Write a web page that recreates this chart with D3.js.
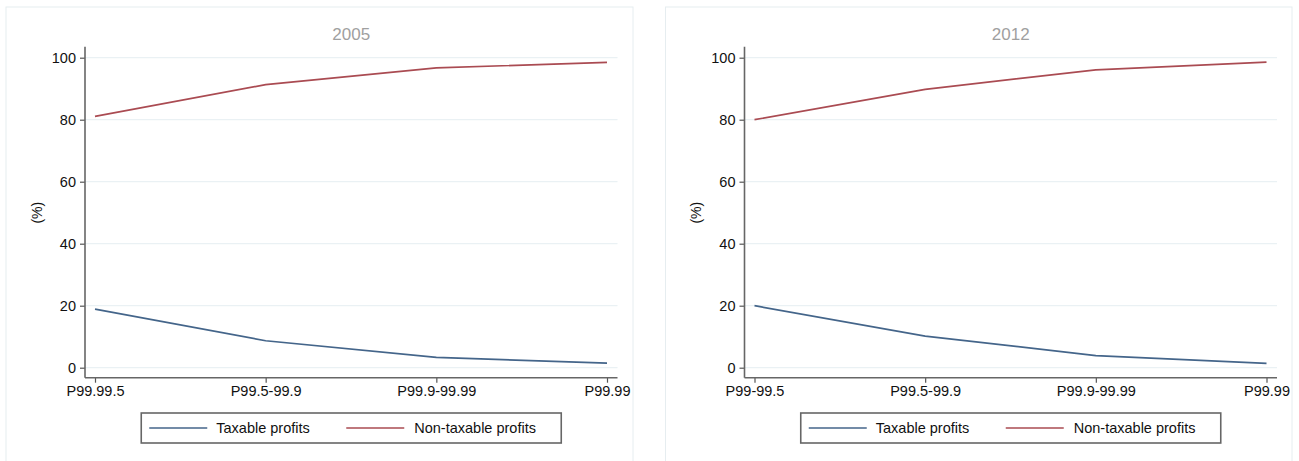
<!DOCTYPE html>
<html>
<head>
<meta charset="utf-8">
<script src="https://cdn.jsdelivr.net/npm/d3@7"></script>
<style>
  html, body { margin: 0; padding: 0; background: #fff; }
  svg { display: block; font-family: "Liberation Sans", Arial, Helvetica, sans-serif; }
</style>
</head>
<body>
<svg id="chart" width="1299" height="461"></svg>
<script>
// Share of profits by top income group (%)
const categories2005 = ["P99.99.5", "P99.5-99.9", "P99.9-99.99", "P99.99"];
const categories2012 = ["P99-99.5", "P99.5-99.9", "P99.9-99.99", "P99.99"];
const taxable2005 = [18.9, 8.7, 3.3, 1.5];
const nonTaxable2005 = [81.1, 91.3, 96.7, 98.5];
const taxable2012 = [20.0, 10.2, 3.9, 1.4];
const nonTaxable2012 = [80.0, 89.8, 96.1, 98.6];
const yTicks = [0, 20, 40, 60, 80, 100];
const seriesNames = ["Taxable profits", "Non-taxable profits"];
const panelTitles = ["2005", "2012"];

const colors = ["#44658a", "#aa4b52"];
const svg = d3.select("#chart");

const panels = [
  { title: panelTitles[0], cats: categories2005, series: [taxable2005, nonTaxable2005], left: 6, right: 633, axisX: 85, plotRight: 617.5 },
  { title: panelTitles[1], cats: categories2012, series: [taxable2012, nonTaxable2012], left: 665.5, right: 1292, axisX: 744.5, plotRight: 1277 }
];

panels.forEach(p => {
  const g = svg.append("g");

  // panel frame
  g.append("rect")
    .attr("x", p.left).attr("y", 7)
    .attr("width", p.right - p.left).attr("height", 470)
    .attr("fill", "#fff").attr("stroke", "#e6edf0").attr("stroke-width", 1);

  const y = d3.scaleLinear().domain([0, 100]).range([367.7, 57.7]);
  const x = d3.scalePoint().domain(p.cats).range([p.axisX + 10, p.plotRight - 10.5]);
  const axisTop = 46.7, axisBottom = 377.7;

  // gridlines
  g.append("g").selectAll("line").data(yTicks).join("line")
    .attr("x1", p.axisX).attr("x2", p.plotRight)
    .attr("y1", d => y(d)).attr("y2", d => y(d))
    .attr("stroke", "#eaf1f4").attr("stroke-width", 1.2);

  // y axis
  const ya = g.append("g").attr("transform", `translate(${p.axisX},0)`)
    .call(d3.axisLeft(y).tickValues(yTicks).tickSize(5).tickPadding(4));
  ya.select(".domain").remove();
  ya.selectAll(".tick line").attr("stroke", "#555").attr("stroke-width", 1.2);
  ya.selectAll(".tick text").attr("font-size", "14.5px").attr("fill", "#111")
    .attr("font-family", "'Liberation Sans', Arial, sans-serif");

  // x axis
  const xa = g.append("g").attr("transform", `translate(0,${axisBottom})`)
    .call(d3.axisBottom(x).tickSize(5).tickPadding(3));
  xa.select(".domain").remove();
  xa.selectAll(".tick line").attr("stroke", "#555").attr("stroke-width", 1.2);
  xa.selectAll(".tick text").attr("font-size", "14.5px").attr("fill", "#111")
    .attr("font-family", "'Liberation Sans', Arial, sans-serif");

  // axis lines
  g.append("line").attr("x1", p.axisX).attr("x2", p.axisX)
    .attr("y1", axisTop).attr("y2", axisBottom)
    .attr("stroke", "#666").attr("stroke-width", 1.6);
  g.append("line").attr("x1", p.axisX).attr("x2", p.plotRight)
    .attr("y1", axisBottom).attr("y2", axisBottom)
    .attr("stroke", "#666").attr("stroke-width", 1.6);

  // y label
  g.append("text")
    .attr("transform", `translate(${p.axisX - 48},${y(50)}) rotate(-90)`)
    .attr("text-anchor", "middle").attr("dy", "0.35em")
    .attr("font-size", "14px").attr("fill", "#111")
    .text("(%)");

  // title
  g.append("text")
    .attr("x", (p.axisX + p.plotRight) / 2).attr("y", 34)
    .attr("text-anchor", "middle").attr("dy", "0.35em")
    .attr("font-size", "17px").attr("fill", "#a0a0a0")
    .text(p.title);

  // series lines
  const line = d3.line().x((d, i) => x(p.cats[i])).y(d => y(d));
  p.series.forEach((vals, si) => {
    g.append("path").datum(vals)
      .attr("d", line)
      .attr("fill", "none")
      .attr("stroke", colors[si])
      .attr("stroke-width", 1.7);
  });

  // legend
  const cx = (p.axisX + p.plotRight) / 2;
  const lg = g.append("g").attr("transform", `translate(${cx - 210},413)`);
  lg.append("rect").attr("x", 0).attr("y", 0).attr("width", 420).attr("height", 30)
    .attr("fill", "#fff").attr("stroke", "#666").attr("stroke-width", 1.6);
  const items = [{ x0: 8, x1: 66, tx: 75 }, { x0: 205, x1: 263, tx: 273 }];
  items.forEach((it, i) => {
    lg.append("line").attr("x1", it.x0).attr("x2", it.x1).attr("y1", 15).attr("y2", 15)
      .attr("stroke", colors[i]).attr("stroke-width", 1.6);
    lg.append("text").attr("x", it.tx).attr("y", 15).attr("dy", "0.35em")
      .attr("font-size", "14.5px").attr("fill", "#111").text(seriesNames[i]);
  });
});
</script>
</body>
</html>
